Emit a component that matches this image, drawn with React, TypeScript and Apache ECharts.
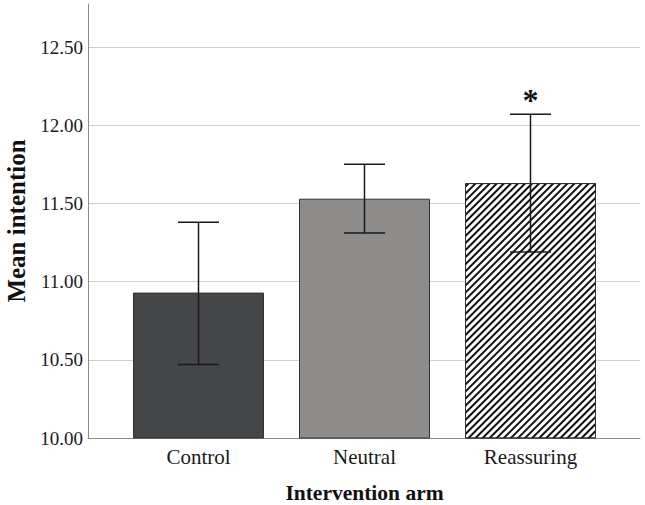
import React, { useEffect, useRef } from "react";
import * as echarts from "echarts";

const categories = ["Control", "Neutral", "Reassuring"];
const means = [10.93, 11.53, 11.63];
const lowerCI = [10.47, 11.31, 11.19];
const upperCI = [11.38, 11.75, 12.07];
const significance = ["", "", "*"];
const yTicks = { min: 10, max: 12.775, interval: 0.5 };

const barColors = ["#454648", "#8f8c8c", "#ffffff"];

export default function App() {
  const ref = useRef<HTMLDivElement>(null);
  useEffect(() => {
    if (!ref.current) return;
    const chart = echarts.init(ref.current, undefined, { renderer: "svg" });
    const font = "Liberation Serif";
    const barData = means.map((v, i) => {
      const item: any = {
        value: v,
        itemStyle: { color: barColors[i], borderColor: "#333", borderWidth: 1 },
      };
      if (i === 2) {
        item.itemStyle.decal = {
          symbol: "rect",
          symbolSize: 1,
          dashArrayX: [1, 0],
          dashArrayY: [2, 2.3],
          rotation: -Math.PI / 4,
          color: "#111",
          backgroundColor: "#ffffff",
        };
      }
      return item;
    });
    const errData = categories.map((c, i) => [i, lowerCI[i], upperCI[i]]);
    chart.setOption({
      animation: false,
      aria: { enabled: false, decal: { show: false } },
      grid: [
        { left: 88, right: 5, top: 4, bottom: 67, outerBoundsMode: "none", containLabel: false },
        { left: 115.5, right: 31.5, top: 4, bottom: 67, outerBoundsMode: "none", containLabel: false },
      ],
      xAxis: [
        {
          type: "value",
          gridIndex: 0,
          min: 0,
          max: 1,
          axisLine: { show: true, lineStyle: { color: "#8a8a8a", width: 1 } },
          axisTick: { show: false },
          axisLabel: { show: false },
          splitLine: { show: false },
        },
        {
          type: "category",
          gridIndex: 1,
          data: categories,
          axisLine: { show: false },
          axisTick: { show: false },
          axisLabel: { fontFamily: font, fontSize: 21, color: "#1a1a1a", margin: 8 },
          name: "Intervention arm",
          nameLocation: "middle",
          nameGap: 44,
          nameTextStyle: { fontFamily: font, fontSize: 21.5, fontWeight: "bold", color: "#111" },
        },
      ],
      yAxis: [
        {
          type: "value",
          gridIndex: 0,
          min: yTicks.min,
          max: yTicks.max,
          interval: yTicks.interval,
          axisLine: { show: true, lineStyle: { color: "#8a8a8a", width: 1 } },
          axisTick: { show: false },
          axisLabel: {
            fontFamily: font,
            fontSize: 19,
            color: "#1a1a1a",
            margin: 5,
            showMaxLabel: false,
            formatter: (v: number) => v.toFixed(2),
          },
          splitLine: { show: true, showMaxLine: false, showMinLine: false, lineStyle: { color: "#cfcfcf", width: 1 } },
          name: "Mean intention",
          nameLocation: "middle",
          nameGap: 57,
          nameTextStyle: { fontFamily: font, fontSize: 25, fontWeight: "bold", color: "#111" },
        },
        {
          type: "value",
          gridIndex: 1,
          min: yTicks.min,
          max: yTicks.max,
          interval: yTicks.interval,
          show: false,
          splitLine: { show: false },
        },
      ],
      series: [
        {
          type: "bar",
          xAxisIndex: 1,
          yAxisIndex: 1,
          data: barData,
          barWidth: 131,
          z: 2,
        },
        {
          type: "custom",
          xAxisIndex: 1,
          yAxisIndex: 1,
          z: 5,
          data: errData,
          renderItem: (params: any, api: any) => {
            const i = api.value(0);
            const lo = api.coord([i, api.value(1)]);
            const hi = api.coord([i, api.value(2)]);
            const label = significance[i];
            const hw = 20.5;
            const style = { stroke: "#1a1a1a", lineWidth: 1.5 };
            const children: any[] = [
              { type: "line", shape: { x1: lo[0], y1: lo[1], x2: hi[0], y2: hi[1] }, style },
              { type: "line", shape: { x1: hi[0] - hw, y1: hi[1], x2: hi[0] + hw, y2: hi[1] }, style },
              { type: "line", shape: { x1: lo[0] - hw, y1: lo[1], x2: lo[0] + hw, y2: lo[1] }, style },
            ];
            if (label) {
              children.push({
                type: "text",
                x: hi[0],
                y: hi[1] - 14,
                style: {
                  text: label,
                  fontFamily: font,
                  fontSize: 32,
                  fontWeight: "bold",
                  fill: "#111",
                  align: "center",
                  verticalAlign: "middle",
                },
              });
            }
            return { type: "group", children };
          },
        },
      ],
    });
    return () => chart.dispose();
  }, []);
  return <div ref={ref} style={{ width: 645, height: 505, position: "absolute", left: 0, top: 0 }} />;
}
